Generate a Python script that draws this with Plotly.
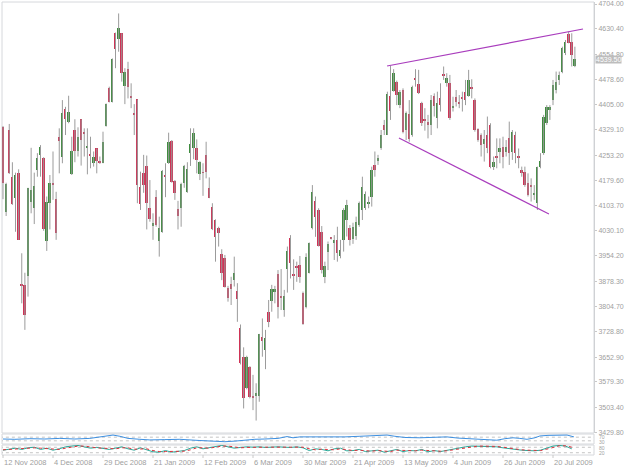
import plotly.graph_objects as go

# ---------------- data ----------------
opens = [4339,4085,4329,4188,4126,4200,3868,3868,3894,4114,4096,4210,4255,4245,3999,4111,4172,4123,4307,4248,
         4391,4354,4197,4329,4267,4361,4322,4276,4255,4230,4274,4233,4232,4341,4455,4413,4617,4600,4617,4460,
         4511,4429,4379,4420,4160,4200,4222,4096,4043,4131,3999,4026,4192,4232,4296,4177,4093,4096,4170,4143,
         4260,4276,4276,4198,4202,4255,4155,4099,4061,4036,3960,3947,3858,3871,3882,3850,3739,3652,3560,3624,
         3533,3537,3537,3712,3674,3788,3821,3846,3899,3836,3793,3914,4007,3896,3924,3927,3843,3801,3904,4036,
         4118,4091,4026,3892,3967,4007,3992,4002,3954,4002,4061,4036,4004,4012,4046,4091,4096,4111,4131,4225,
         4238,4275,4344,4314,4430,4446,4472,4402,4448,4329,4377,4314,4481,4465,4408,4361,4353,4344,4430,4364,
         4423,4496,4468,4470,4394,4428,4412,4426,4443,4430,4456,4418,4331,4314,4287,4314,4344,4220,4250,4264,
         4279,4264,4304,4264,4314,4248,4210,4205,4170,4165,4136,4111,4220,4260,4349,4389,4418,4448,4478,4503,
         4557,4615,4592,4520]
highs = [4341,4172,4347,4233,4202,4212,3962,3904,4157,4276,4202,4260,4284,4248,4131,4195,4265,4145,4334,4418,
         4398,4431,4309,4361,4337,4361,4334,4334,4309,4265,4274,4250,4324,4408,4458,4542,4619,4676,4617,4513,
         4532,4468,4406,4420,4205,4255,4253,4180,4081,4150,4071,4210,4230,4321,4299,4180,4118,4172,4225,4233,
         4334,4334,4301,4236,4230,4294,4188,4111,4063,4041,3974,3957,3865,3892,3952,3873,3750,3682,3657,3626,
         3600,3575,3722,3768,3734,3823,3868,3865,3912,3915,3853,3982,4016,3944,3937,3954,3848,3962,3994,4165,
         4131,4096,4043,3937,3997,4010,4016,4041,4002,4096,4121,4046,4053,4071,4116,4190,4146,4131,4220,4265,
         4255,4329,4359,4443,4520,4510,4476,4448,4453,4384,4418,4461,4510,4508,4413,4394,4374,4433,4438,4443,
         4468,4518,4498,4493,4428,4448,4433,4443,4478,4508,4480,4423,4334,4319,4329,4369,4349,4250,4304,4304,
         4309,4299,4354,4329,4324,4274,4220,4220,4200,4185,4165,4220,4260,4374,4403,4403,4478,4503,4503,4577,
         4597,4622,4617,4577]
lows = [4123,4073,4198,4106,4026,4002,3813,3734,3833,4081,4049,4190,4190,4029,3969,4033,4121,4002,4200,4230,
        4314,4349,4195,4233,4250,4223,4250,4197,4215,4220,4200,4228,4230,4339,4411,4411,4513,4562,4473,4406,
        4423,4394,4314,4111,4091,4142,4033,4056,4002,4041,3952,4023,4129,4228,4172,4121,4033,4041,4157,4142,
        4222,4242,4200,4180,4133,4185,4126,4031,3937,3982,3882,3860,3818,3808,3863,3758,3631,3500,3557,3530,
        3495,3464,3520,3654,3617,3742,3788,3813,3768,3793,3773,3845,3887,3853,3877,3874,3749,3798,3902,4033,
        4011,3982,3902,3873,3912,4003,3942,3937,3947,3967,4012,3985,3990,4002,4041,4061,4091,4096,4101,4190,
        4225,4270,4314,4314,4359,4443,4403,4394,4319,4299,4294,4309,4458,4436,4341,4327,4304,4314,4369,4334,
        4384,4478,4458,4359,4384,4399,4394,4384,4403,4428,4423,4324,4294,4250,4235,4260,4215,4210,4215,4230,
        4215,4250,4225,4240,4230,4215,4190,4160,4131,4116,4121,4091,4215,4255,4344,4359,4403,4438,4463,4498,
        4552,4587,4518,4516]
closes = [4170,4168,4200,4109,4195,4003,3865,3778,4157,4150,4162,4245,4279,4033,4116,4172,4164,4023,4297,4379,
          4361,4384,4265,4267,4309,4299,4320,4282,4254,4250,4237,4232,4294,4406,4413,4540,4569,4632,4498,4503,
          4458,4427,4375,4164,4109,4164,4111,4063,4053,4045,4036,4208,4191,4294,4175,4142,4073,4167,4222,4213,
          4286,4319,4240,4233,4201,4205,4128,4033,4009,4021,3902,3863,3828,3855,3902,3826,3634,3530,3654,3535,
          3532,3547,3722,3702,3709,3756,3855,3855,3803,3828,3835,3970,3932,3895,3920,3892,3752,3952,3992,4145,
          4071,3984,3912,3924,3990,4006,4002,3964,3972,4091,4106,4002,4039,4056,4111,4160,4139,4116,4210,4210,
          4245,4314,4329,4435,4387,4498,4433,4443,4324,4381,4301,4458,4479,4440,4349,4357,4345,4418,4399,4408,
          4403,4490,4483,4364,4400,4413,4408,4420,4418,4478,4453,4329,4299,4284,4301,4274,4220,4235,4248,4276,
          4250,4279,4260,4324,4260,4246,4200,4165,4136,4160,4141,4220,4238,4369,4398,4398,4463,4473,4493,4572,
          4592,4589,4552,4539.5]

price_ticks = [4704.00,4630.40,4554.80,4478.60,4405.00,4329.10,4253.20,4179.60,4103.70,4030.10,
               3954.20,3878.30,3804.70,3728.80,3652.90,3579.30,3503.40,3429.80]
date_labels = ["12 Nov 2008","4 Dec 2008","29 Dec 2008","21 Jan 2009","12 Feb 2009","6 Mar 2009",
               "30 Mar 2009","21 Apr 2009","13 May 2009","4 Jun 2009","26 Jun 2009","20 Jul 2009"]
date_bars = [0,16,32,48,64,80,96,112,128,144,160,176]
last_price = 4539.50

# trend lines: (bar, price) pairs
upper_line = [(122.9, 4519.5), (185.6, 4629.7)]
lower_line = [(126.7, 4305.2), (174.7, 4078.9)]

# oscillator panel 1 (blue)
osc1_x = [0,3.8,8.6,13.4,18.2,23,27.8,31,33.3,35.2,37.4,40,43.8,47,51.8,56.6,63,67.8,71,74.2,77.4,80.6,83.8,88,
          90.9,92.8,95,98.2,101.4,105.6,109.4,114.2,119,122.9,125.4,128.6,133.4,137.6,142,145.6,148.5,151.7,
          154.9,158,160.6,163.2,165.4,167.7,170.2,171.8,174.4,177.6,180.5,182.7]
osc1_v = [50,46.7,53.3,50,56.7,50,56.7,73.3,90,93.3,80,56.7,46.7,40,43.3,46.7,33.3,23.3,20,26.7,40,46.7,50,56.7,
          76.7,63.3,73.3,73.3,66.7,70,73.3,80,83.3,93.3,80,66.7,63.3,66.7,73.3,60,53.3,46.7,
          40,36.7,53.3,63.3,56.7,46.7,63.3,83.3,90,93.3,93.3,73.3]
osc1_levels = [70, 30]
# oscillator panel 2 (teal main, red signal)
osc2_x = [0,2,4,6,8,10,12,14,16,18,20,22,24,26,28,30,32,34,36,38,40,42,44,46,48,50,52,54,56,58,60,62,64,66,68,70,
          72,74,76,78,80,82,84,86,88,90,92,94,96,98,100,102,104,106,108,110,112,114,116,118,120,122,124,126,128,
          130,132,134,136,138,140,142,144,146,148,150,152,154,156,158,160,162,164,166,168,170,172,174,176,178,180,182]
osc2_main = [48,63,70,56,74,81,56,70,48,63,85,93,100,85,70,78,63,56,70,85,63,48,74,56,30,26,44,26,33,44,70,85,63,
             78,93,100,85,70,78,85,81,85,78,85,85,81,78,85,74,44,63,56,41,63,70,41,44,56,33,41,48,26,41,56,33,
             44,41,56,30,44,33,48,56,70,85,93,93,93,93,85,74,63,56,48,44,41,48,70,93,100,93,63]
osc2_sig = [52,56,63,63,66,74,70,63,59,56,70,85,93,93,81,74,70,63,63,74,74,59,59,63,44,33,33,33,30,37,52,74,74,
            70,81,93,93,81,74,78,81,81,81,81,85,81,81,81,81,63,52,59,52,52,63,56,44,48,44,37,44,37,33,48,44,
            41,41,48,44,37,37,41,52,63,78,89,93,93,93,89,81,70,59,52,48,44,44,59,81,96,96,81]
osc2_levels = [80, 20]

# ---------------- styling / layout helpers ----------------
W, H = 625, 469
BAR_W = 3.125
X0 = 3.0           # pixel centre of bar 0
PLOT_L, PLOT_R = 2, 594
MAIN_T, MAIN_B = 2, 433
P1_T, P1_B = 434, 444
P2_T, P2_B = 445, 455
P_TOP_Y, P_PER_PX = 4716.0, 2.977

def px(x):
    return x / W

def py(y):
    return 1 - y / H

xr = [(PLOT_L - X0) / BAR_W, (PLOT_R - X0) / BAR_W]
yr = [P_TOP_Y - P_PER_PX * MAIN_B, P_TOP_Y - P_PER_PX * MAIN_T]

UP, DN, WICK = "#3f8c3f", "#cf3356", "#9b9b9b"
FRAME = "#d6d8dc"
TXT = "#a0a0a0"

n = len(opens)
xs = list(range(n))

fig = go.Figure()

# wicks
wx, wy = [], []
for i in xs:
    wx += [i, i, None]
    wy += [lows[i], highs[i], None]
fig.add_trace(go.Scatter(x=wx, y=wy, mode="lines", line=dict(color=WICK, width=1),
                         hoverinfo="skip", showlegend=False))

# bodies
minh = P_PER_PX * 0.9
base = [min(o, c) for o, c in zip(opens, closes)]
hgt = [max(abs(c - o), minh) for o, c in zip(opens, closes)]
cols = [UP if c > o else DN for o, c in zip(opens, closes)]
fig.add_trace(go.Bar(x=xs, y=hgt, base=base, width=0.62, marker=dict(color=cols, line=dict(width=0)),
                     showlegend=False, hoverinfo="skip"))

# trend lines
for ln in (upper_line, lower_line):
    fig.add_trace(go.Scatter(x=[p[0] for p in ln], y=[p[1] for p in ln], mode="lines",
                             line=dict(color="#a93dbd", width=1.2), showlegend=False, hoverinfo="skip"))

# oscillator level lines + series
for lv in osc1_levels:
    fig.add_trace(go.Scatter(x=[xs[0] - 1, n + 6], y=[lv, lv], mode="lines",
                             line=dict(color="#c4c4c4", width=1, dash="dot"),
                             xaxis="x2", yaxis="y2", showlegend=False, hoverinfo="skip"))
for lv in osc2_levels:
    fig.add_trace(go.Scatter(x=[xs[0] - 1, n + 6], y=[lv, lv], mode="lines",
                             line=dict(color="#c4c4c4", width=1, dash="dot"),
                             xaxis="x3", yaxis="y3", showlegend=False, hoverinfo="skip"))
fig.add_trace(go.Scatter(x=osc1_x, y=osc1_v, mode="lines", line=dict(color="#3d8fe0", width=1),
                         xaxis="x2", yaxis="y2", showlegend=False, hoverinfo="skip"))
fig.add_trace(go.Scatter(x=osc2_x, y=osc2_main, mode="lines", line=dict(color="#2aa99a", width=1),
                         xaxis="x3", yaxis="y3", showlegend=False, hoverinfo="skip"))
fig.add_trace(go.Scatter(x=osc2_x, y=osc2_sig, mode="lines", line=dict(color="#e0303a", width=1, dash="dot"),
                         xaxis="x3", yaxis="y3", showlegend=False, hoverinfo="skip"))

xdom = [px(PLOT_L), px(PLOT_R)]
common_x = dict(range=xr, domain=xdom, showgrid=False, zeroline=False, showticklabels=False,
                showline=False, ticks="", fixedrange=True)
fig.update_layout(
    width=W, height=H, margin=dict(l=0, r=0, t=0, b=0),
    paper_bgcolor="white", plot_bgcolor="white", bargap=0, barmode="overlay",
    xaxis=dict(**common_x),
    xaxis2=dict(**common_x, anchor="y2", matches="x"),
    xaxis3=dict(**common_x, anchor="y3", matches="x"),
    yaxis=dict(range=yr, domain=[py(MAIN_B), py(MAIN_T)], side="right", showgrid=False, zeroline=False,
               tickvals=price_ticks, ticktext=[f"{v:.2f}" for v in price_ticks],
               tickfont=dict(family="Liberation Sans", size=7, color=TXT),
               ticks="outside", ticklen=2, tickcolor="#c8c8c8",
               showline=True, linecolor="#cfd1d4", linewidth=1, automargin=False, fixedrange=True),
    yaxis2=dict(range=[-5, 105], domain=[py(P1_B), py(P1_T)], showgrid=False, zeroline=False,
                showticklabels=False, showline=False, automargin=False, anchor="x2"),
    yaxis3=dict(range=[-5, 105], domain=[py(P2_B), py(P2_T)], showgrid=False, zeroline=False,
                showticklabels=False, showline=False, automargin=False, anchor="x3"),
    font=dict(family="Liberation Sans", size=7, color=TXT),
)

shapes = []
for (t, b) in [(MAIN_T, MAIN_B), (P1_T, P1_B), (P2_T, P2_B)]:
    shapes.append(dict(type="rect", xref="paper", yref="paper", x0=px(PLOT_L), x1=px(PLOT_R),
                       y0=py(b), y1=py(t), line=dict(color=FRAME, width=1), layer="below"))
# date tick marks
for b in date_bars:
    xx = X0 + b * BAR_W
    shapes.append(dict(type="line", xref="paper", yref="paper", x0=px(xx), x1=px(xx),
                       y0=py(P2_B), y1=py(P2_B + 3), line=dict(color="#c8c8c8", width=1)))
fig.update_layout(shapes=shapes)

ann = []
for lbl, b in zip(date_labels, date_bars):
    xx = X0 + b * BAR_W - 1.3
    ann.append(dict(x=px(xx), y=py(462.5), xref="paper", yref="paper", text=lbl, showarrow=False,
                    xanchor="left", yanchor="middle", font=dict(size=7.5, color=TXT, family="Liberation Sans")))
ann.append(dict(x=px(PLOT_R + 1), y=last_price, xref="paper", yref="y", text=f"{last_price:.2f}",
                showarrow=False, xanchor="left", yanchor="middle", bgcolor="#bdbdbd",
                font=dict(size=7, color="white", family="Liberation Sans"), borderpad=0))
for (t, b), lvls in [((P1_T, P1_B), osc1_levels), ((P2_T, P2_B), osc2_levels)]:
    for k, lv in enumerate(lvls):
        yy = t + 2.5 if k == 0 else b - 2.5
        ann.append(dict(x=px(PLOT_R + 3), y=py(yy), xref="paper", yref="paper", text=str(lv),
                        showarrow=False, xanchor="left", yanchor="middle",
                        font=dict(size=5, color=TXT, family="Liberation Sans")))
fig.update_layout(annotations=ann)

fig.write_html("out.html")
